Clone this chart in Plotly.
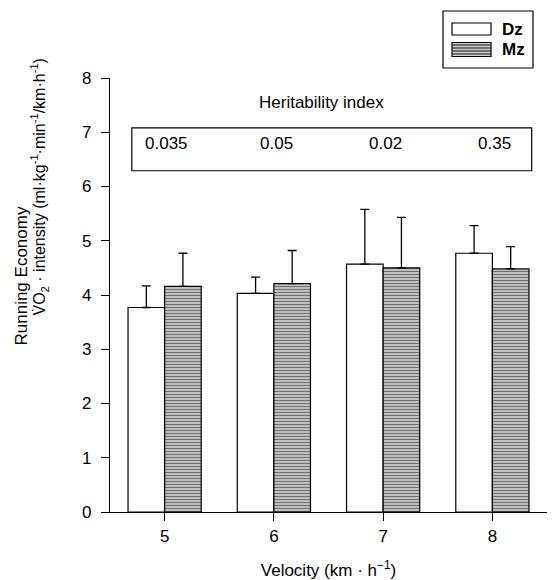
import plotly.graph_objects as go

velocity = [5, 6, 7, 8]
dz_mean = [3.77, 4.03, 4.57, 4.77]
dz_sd = [0.40, 0.30, 1.01, 0.51]
mz_mean = [4.16, 4.21, 4.50, 4.48]
mz_sd = [0.61, 0.61, 0.93, 0.41]
heritability = ["0.035", "0.05", "0.02", "0.35"]
y_ticks = [0, 1, 2, 3, 4, 5, 6, 7, 8]

FONT = "Liberation Sans, Arial, sans-serif"
BW = 0.335

fig = go.Figure()
fig.add_trace(go.Bar(
    x=velocity, y=dz_mean, width=BW, offset=-BW, name="Dz",
    marker=dict(color="white", line=dict(color="black", width=1.2)),
    error_y=dict(type="data", symmetric=False, array=dz_sd, arrayminus=[0] * 4,
                 color="black", thickness=1.3, width=4.5),
))
fig.add_trace(go.Bar(
    x=velocity, y=mz_mean, width=BW, offset=0, name="Mz",
    marker=dict(color="#cfcfcf", line=dict(color="black", width=1.2),
                pattern=dict(shape="-", fgcolor="#111111", bgcolor="#cfcfcf",
                             size=3, solidity=0.45)),
    error_y=dict(type="data", symmetric=False, array=mz_sd, arrayminus=[0] * 4,
                 color="black", thickness=1.3, width=4.5),
))

# Heritability box
fig.add_shape(type="rect", xref="x", yref="y", x0=4.70, x1=8.36, y0=6.29, y1=7.08,
              line=dict(color="black", width=1.2), fillcolor="rgba(0,0,0,0)")
fig.add_annotation(x=6.44, y=7.55, xref="x", yref="y", text="Heritability index",
                   showarrow=False, font=dict(size=17, color="black", family=FONT))
for v, h in zip(velocity, heritability):
    fig.add_annotation(x=v + 0.02, y=6.79, xref="x", yref="y", text=h, showarrow=False,
                       yanchor="middle", font=dict(size=17, color="black", family=FONT))

# Legend (manual)
def px2paper(px, py):
    return (px - 110) / 437.0, (512 - py) / 434.0

bx0, by0 = px2paper(443, 68)
bx1, by1 = px2paper(533, 11)
fig.add_shape(type="rect", xref="paper", yref="paper", x0=bx0, x1=bx1, y0=by0, y1=by1,
              line=dict(color="black", width=1.2), fillcolor="white", layer="below")
sx0, sy0 = px2paper(452, 35)
sx1, sy1 = px2paper(491, 23)
fig.add_shape(type="rect", xref="paper", yref="paper", x0=sx0, x1=sx1, y0=sy0, y1=sy1,
              line=dict(color="black", width=1.2), fillcolor="white")
mx0, my0 = px2paper(452, 56.5)
mx1, my1 = px2paper(491, 42.5)
fig.add_shape(type="rect", xref="paper", yref="paper", x0=mx0, x1=mx1, y0=my0, y1=my1,
              line=dict(color="black", width=1.2), fillcolor="#cfcfcf")
path = ""
py = 45.0
while py < 56:
    _, yy = px2paper(0, py)
    path += f"M{mx0},{yy} L{mx1},{yy} "
    py += 3.0
fig.add_shape(type="path", xref="paper", yref="paper", path=path,
              line=dict(color="#111111", width=1))
tx, ty = px2paper(500, 29)
fig.add_annotation(x=tx, y=ty, xref="paper", yref="paper", text="<b>Dz</b>", showarrow=False,
                   xanchor="left", yanchor="middle",
                   font=dict(size=17, color="black", family=FONT))
tx, ty = px2paper(500, 49.5)
fig.add_annotation(x=tx, y=ty, xref="paper", yref="paper", text="<b>Mz</b>", showarrow=False,
                   xanchor="left", yanchor="middle",
                   font=dict(size=17, color="black", family=FONT))

# Y axis title (two lines, bottom aligned)
ax, ay = px2paper(21, 348)
fig.add_annotation(x=ax, y=ay, xref="paper", yref="paper", text="Running Economy",
                   textangle=-90, showarrow=False, xanchor="center", yanchor="bottom",
                   font=dict(size=17, color="black", family=FONT))
ax, ay = px2paper(39, 318)
fig.add_annotation(x=ax, y=ay, xref="paper", yref="paper",
                   text="V\u0307O<sub>2</sub> \u00b7 intensity (ml\u00b7kg<sup>-1</sup>\u00b7min<sup>-1</sup>/km\u00b7h<sup>-1</sup>)",
                   textangle=-90, showarrow=False, xanchor="center", yanchor="bottom",
                   font=dict(size=16, color="black", family=FONT))

fig.update_layout(
    width=553, height=580,
    margin=dict(l=110, r=6, t=78, b=68),
    plot_bgcolor="white", paper_bgcolor="white",
    showlegend=False, barmode="overlay",
    font=dict(family=FONT, size=17, color="black"),
    xaxis=dict(range=[4.5, 8.5], tickvals=velocity, ticktext=[str(v) for v in velocity],
               showline=True, linecolor="black", linewidth=1.2, ticks="outside",
               ticklen=8, tickcolor="black", tickwidth=1.2, showgrid=False, zeroline=False,
               tickfont=dict(size=17), automargin=False,
               title=dict(text="Velocity (km \u00b7 h<sup>\u22121</sup>)", standoff=20,
                          font=dict(size=17))),
    yaxis=dict(range=[0, 8], tickvals=y_ticks, showline=True, linecolor="black",
               linewidth=1.2, ticks="outside", ticklen=8, tickcolor="black", tickwidth=1.2,
               showgrid=False, zeroline=False, ticklabelstandoff=6, tickfont=dict(size=17),
               automargin=False),
)

fig.write_html("out.html")
